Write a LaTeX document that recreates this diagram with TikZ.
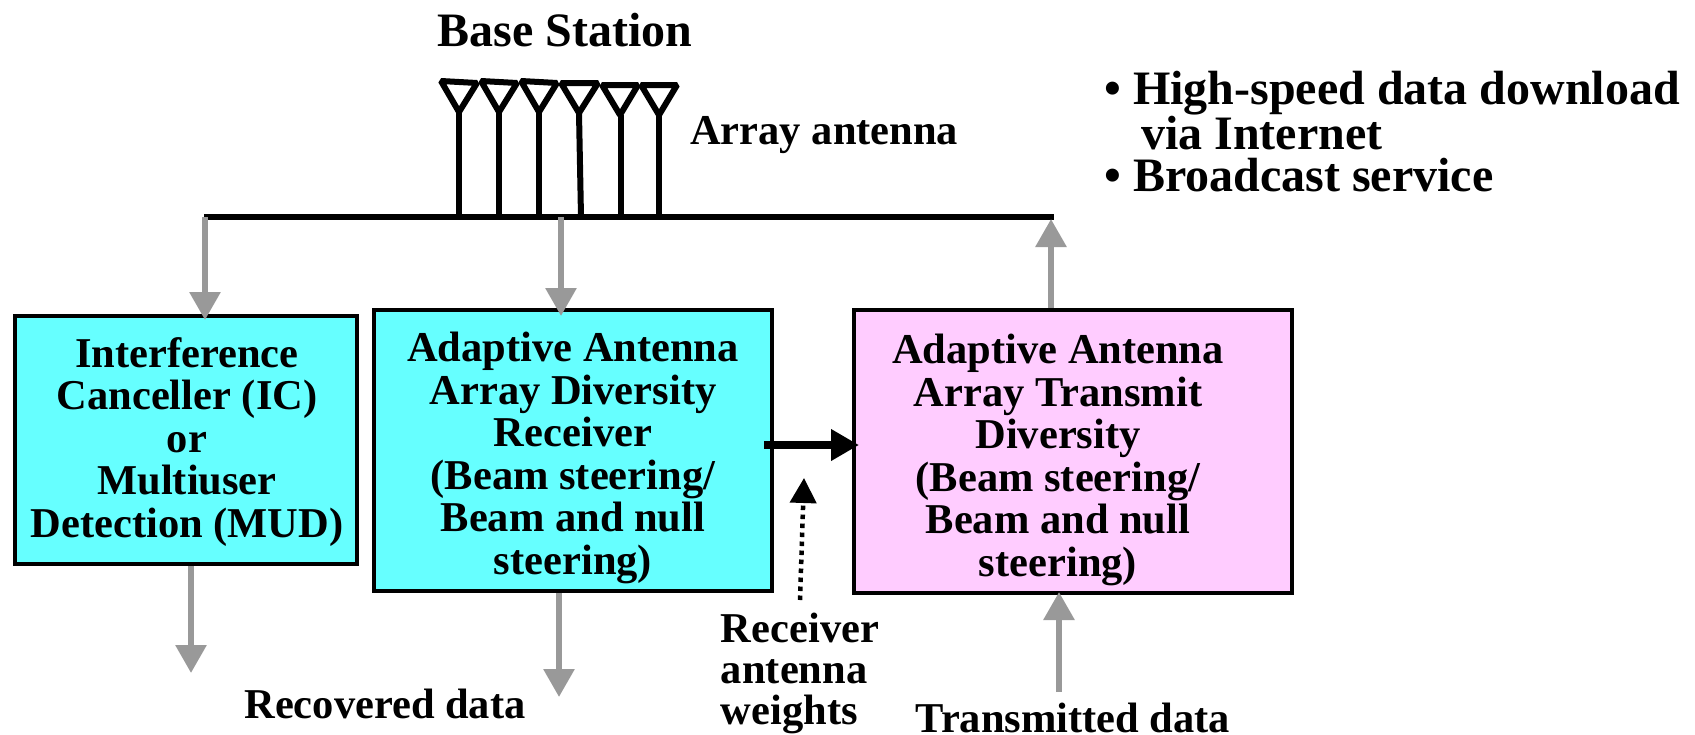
\documentclass[tikz,border=0pt]{standalone}
\usepackage{fontspec}
\setmainfont{Liberation Serif}
\usetikzlibrary{arrows.meta}
\definecolor{boxcyan}{HTML}{66FFFF}
\definecolor{boxpink}{HTML}{FFCCFF}
\definecolor{flowgrey}{HTML}{999999}
\tikzset{
  every node/.style={font=\fontsize{42.5}{42.5}\selectfont\bfseries,inner sep=0pt,align=center},
  bigtext/.style={font=\fontsize{48}{42}\selectfont\bfseries},
  procbox/.style={draw=black,line width=4pt},
  flow/.style={draw=flowgrey,line width=6pt,-{Triangle[width=30pt,length=28pt]}},
  antenna/.style={draw=black,line width=6pt,line join=miter,miter limit=1.6},
  stem/.style={draw=black,line width=6pt},
  bus/.style={draw=black,line width=6pt},
  weightflow/.style={draw=black,line width=7.5pt,-{Triangle[width=30pt,length=28pt]}},
  dotflow/.style={draw=black,line width=4.5pt,dash pattern=on 4.5pt off 4.5pt,-{Triangle[width=26pt,length=25pt]}}
}
\begin{document}
\begin{tikzpicture}[x=1pt,y=-1pt]
\useasboundingbox (0,0) rectangle (1695,734);

\coordinate (busL) at (204,217);
\coordinate (busR) at (1054,217);
\coordinate (tapA) at (205,217);
\coordinate (tapB) at (561,217);
\coordinate (tapC) at (1051,219);
\draw[bus] (busL) -- (busR);

% antennas
\draw[antenna] (441,81) -- (477,83) -- (459,112) -- cycle;
\draw[antenna] (481,81) -- (517,83) -- (499,112) -- cycle;
\draw[antenna] (521,81) -- (557,83) -- (539,112) -- cycle;
\draw[antenna] (561,83) -- (598,83) -- (579,113) -- cycle;
\draw[antenna] (602,85) -- (638,85) -- (620,115) -- cycle;
\draw[antenna] (641,85) -- (677,85) -- (659,115) -- cycle;
\coordinate (a1) at (459,112); \coordinate (a2) at (499,112); \coordinate (a3) at (539,112);
\coordinate (a4) at (579,113); \coordinate (a5) at (621,115); \coordinate (a6) at (659,115);
\coordinate (b1) at (459,217); \coordinate (b2) at (499,217); \coordinate (b3) at (539,217);
\coordinate (b4) at (581,217); \coordinate (b5) at (621,217); \coordinate (b6) at (659,217);
\foreach \i in {1,...,6} \draw[stem] (a\i) -- (b\i);

% boxes
\path[procbox,fill=boxcyan] (15,316) rectangle (357,564);
\path[procbox,fill=boxcyan] (374,310) rectangle (772,591);
\path[procbox,fill=boxpink] (854,310) rectangle (1292,593);
\coordinate (ic) at (205,320);
\coordinate (rx) at (561,316);
\coordinate (txtop) at (1051,308);

\node (ictext) at (187,442) {Interference\\Canceller (IC)\\or\\Multiuser\\Detection (MUD)};
\node (rxtext) at (573,458) {Adaptive Antenna\\Array Diversity\\Receiver\\(Beam steering/\\Beam and null\\steering)};
\node (txtext) at (1058,460) {Adaptive Antenna\\Array Transmit\\Diversity\\(Beam steering/\\Beam and null\\steering)};

\node[bigtext] (title) at (565,30) {Base Station};
\node[anchor=west] (arr) at (690,135) {Array antenna};
\node[bigtext,anchor=west,align=left] (bul) at (1104,132) {• High-speed data download\\\hspace{37pt}via Internet\\• Broadcast service};
\node (rec) at (385,704) {Recovered data};
\node[align=left,font=\fontsize{42.5}{41}\selectfont\bfseries] (wt) at (800,673) {Receiver\\antenna\\weights};
\node (tra) at (1073,718) {Transmitted data};

% grey flows
\draw[flow] (tapA) -- (ic);
\draw[flow] (tapB) -- (rx);
\draw[flow] (txtop) -- (tapC);
\coordinate (icout) at (191,566); \coordinate (icend) at (191,673);
\coordinate (rxout) at (559,593); \coordinate (rxend) at (559,697);
\coordinate (txsrc) at (1059,692); \coordinate (txin) at (1059,592);
\draw[flow] (icout) -- (icend);
\draw[flow] (rxout) -- (rxend);
\draw[flow] (txsrc) -- (txin);

% black flows
\coordinate (wa) at (764,445); \coordinate (wb) at (859,445);
\draw[weightflow] (wa) -- (wb);
\coordinate (da) at (800,600); \coordinate (db) at (804,478);
\draw[dotflow] (da) -- (db);
\end{tikzpicture}
\end{document}
